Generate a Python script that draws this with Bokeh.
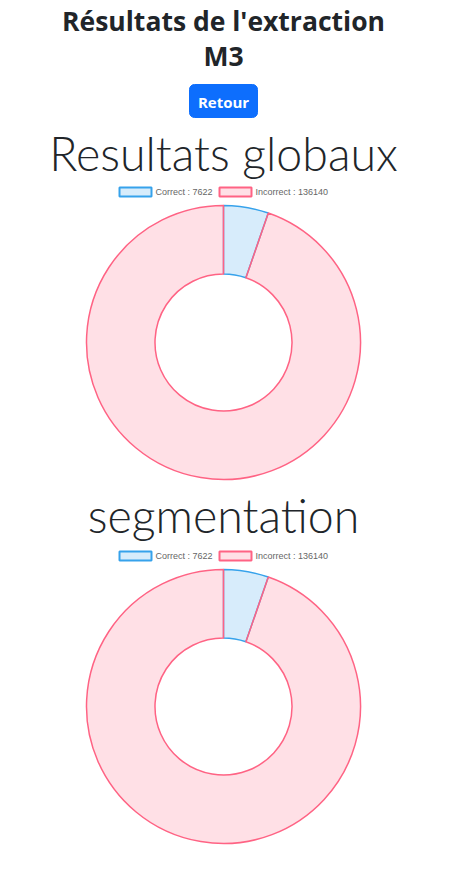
import math
from bokeh.plotting import figure
from bokeh.models import Range1d, ColumnDataSource
from bokeh.core.properties import value
from bokeh.embed import file_html
from bokeh.resources import INLINE

W, H = 454, 878

page_title = ["Résultats de l'extraction", "M3"]
button_label = "Retour"
chart_titles = ["Resultats globaux", "segmentation"]
categories = ["Correct", "Incorrect"]
values_globaux = [7622, 136140]
values_segmentation = [7622, 136140]
fill_colors = ["rgba(54,162,235,0.2)", "rgba(255,99,132,0.2)"]
line_colors = ["rgb(54,162,235)", "rgb(255,99,132)"]

p = figure(width=W, height=H, output_backend="svg", toolbar_location=None,
           x_range=Range1d(0, W), y_range=Range1d(0, H), min_border=0)
p.axis.visible = False
p.grid.visible = False
p.outline_line_color = None
p.background_fill_color = "white"
p.border_fill_color = "white"

def Y(py):
    return H - py

# Page title
p.text(x=[223, 223], y=[Y(20), Y(55)], text=page_title, text_align="center",
       text_baseline="middle", text_font=value("Open Sans"), text_font_style="bold",
       text_font_size="26.5px", text_color="#212529")

# Button
p.quad(left=[189], right=[257], top=[Y(84)], bottom=[Y(117)], fill_color="#0d6efd",
       line_color="#0d6efd", border_radius=5)
p.text(x=[223], y=[Y(101)], text=[button_label], text_align="center", text_baseline="middle",
       text_font=value("Open Sans"), text_font_style="bold", text_font_size="15px",
       text_color="white")

def donut(title, vals, title_y, legend_y, cy):
    p.text(x=[223], y=[Y(title_y)], text=[title], text_align="center", text_baseline="middle",
           text_font=value("Lato Light"), text_font_size="46.5px", text_color="#212529")
    # legend
    box_lefts = [119, 219]
    for i, cat in enumerate(categories):
        bl = box_lefts[i]
        p.quad(left=[bl], right=[bl + 32], top=[Y(legend_y - 4.5)], bottom=[Y(legend_y + 4.5)],
               fill_color=fill_colors[i], line_color=line_colors[i], line_width=2)
        p.text(x=[bl + 36], y=[Y(legend_y)], text=[f"{cat} : {vals[i]}"], text_align="left",
               text_baseline="middle", text_font=value("Liberation Sans"),
               text_font_size="9px", text_color="#666666")
    total = sum(vals)
    start = math.pi / 2
    starts, ends = [], []
    for v in vals:
        end = start - v / total * 2 * math.pi
        starts.append(start)
        ends.append(end)
        start = end
    src = ColumnDataSource(dict(start=starts, end=ends, fill=fill_colors, line=line_colors))
    p.annular_wedge(x=223, y=Y(cy), inner_radius=68.5, outer_radius=137,
                    start_angle="start", end_angle="end", direction="clock",
                    fill_color="fill", line_color="line", line_width=1.5, source=src)

donut(chart_titles[0], values_globaux, 152, 191.5, 342)
donut(chart_titles[1], values_segmentation, 514, 555.5, 706)

open("out.html", "w").write(file_html(p, INLINE))
